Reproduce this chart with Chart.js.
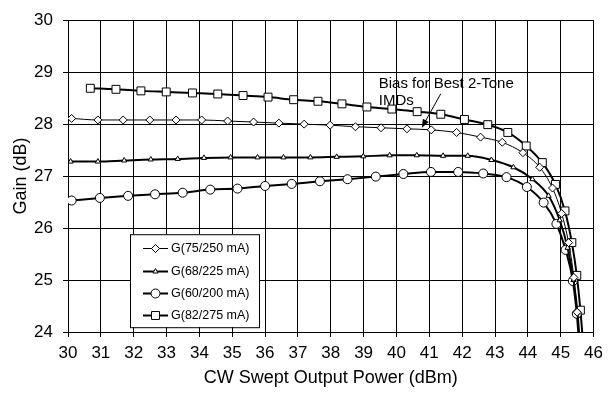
<!DOCTYPE html>
<html>
<head>
<meta charset="utf-8">
<script src="https://cdn.jsdelivr.net/npm/chart.js@4.4.0/dist/chart.umd.min.js"></script>
<style>
    html, body { margin: 0; padding: 0; background: #fff; }
    #wrap { position: relative; width: 609px; height: 396px; }
</style>
</head>
<body>
<div id="wrap"><canvas id="gainChart" width="609" height="396"></canvas></div>
<script>
// gain vs CW swept output power, four bias points
const seriesNames = ['G(75/250 mA)', 'G(68/225 mA)', 'G(60/200 mA)', 'G(82/275 mA)'];

const powerG75 = [30.11, 30.91, 31.68, 32.49, 33.29, 34.07, 34.86, 35.65, 36.42, 37.19, 37.98, 38.75, 39.53,
    40.32, 41.06, 41.83, 42.56, 43.22, 43.85, 44.36, 44.75, 45.03, 45.24, 45.40, 45.50, 45.60];
const gainG75 = [28.11, 28.08, 28.08, 28.08, 28.08, 28.08, 28.06, 28.04, 28.02, 28.00, 27.98, 27.95, 27.93,
    27.91, 27.89, 27.84, 27.75, 27.65, 27.45, 27.17, 26.77, 26.28, 25.72, 25.05, 24.38, 23.70];

const powerG68 = [30.08, 30.91, 31.71, 32.52, 33.34, 34.14, 34.95, 35.77, 36.56, 37.38, 38.18, 38.99, 39.79,
    40.62, 41.42, 42.17, 42.89, 43.56, 44.14, 44.63, 44.97, 45.21, 45.39, 45.51, 45.58];
const gainG68 = [27.28, 27.28, 27.30, 27.32, 27.33, 27.35, 27.36, 27.36, 27.36, 27.36, 27.37, 27.38, 27.40,
    27.40, 27.39, 27.39, 27.31, 27.17, 26.94, 26.62, 26.15, 25.62, 25.00, 24.38, 23.80];

const powerG60 = [30.11, 30.97, 31.83, 32.65, 33.49, 34.33, 35.16, 36.00, 36.81, 37.67, 38.51, 39.37, 40.21,
    41.05, 41.88, 42.64, 43.35, 43.97, 44.48, 44.87, 45.15, 45.37, 45.49, 45.56];
const gainG60 = [26.53, 26.58, 26.62, 26.65, 26.68, 26.74, 26.76, 26.81, 26.85, 26.90, 26.94, 26.99, 27.04,
    27.08, 27.08, 27.05, 26.98, 26.79, 26.49, 26.08, 25.58, 24.98, 24.35, 23.80];

const powerG82 = [30.68, 31.46, 32.22, 32.99, 33.79, 34.56, 35.33, 36.09, 36.87, 37.61, 38.34, 39.10, 39.86,
    40.63, 41.35, 42.07, 42.78, 43.39, 43.95, 44.44, 44.84, 45.13, 45.34, 45.49, 45.60, 45.68];
const gainG82 = [28.69, 28.67, 28.64, 28.62, 28.60, 28.58, 28.55, 28.52, 28.47, 28.44, 28.39, 28.33, 28.29,
    28.24, 28.19, 28.09, 27.99, 27.84, 27.58, 27.26, 26.84, 26.33, 25.72, 25.09, 24.42, 23.80];

// annotation: text anchor and arrow (data units)
const noteLines = ['Bias for Best 2-Tone', 'IMDs'];
const noteAt = [39.46, 28.70];
const arrowFrom = [41.35, 28.585];
const arrowTo = [40.77, 27.93];

const FONT = '"Liberation Sans", Arial, Helvetica, sans-serif';
Chart.defaults.font.family = FONT;
Chart.defaults.color = '#000';

function toPoints(xs, ys) {
    return xs.map((x, i) => ({ x: x, y: ys[i] }));
}

function makeSet(label, xs, ys, style, radius, width) {
    return {
        label: label,
        data: toPoints(xs, ys),
        borderColor: '#000',
        borderWidth: width,
        backgroundColor: '#fff',
        pointStyle: style,
        pointRadius: radius,
        pointBorderWidth: 1,
        pointBorderColor: '#000',
        pointBackgroundColor: '#fff',
        cubicInterpolationMode: 'monotone',
        clip: 0
    };
}

// text + arrow drawn in data coordinates
const notePlugin = {
    id: 'notePlugin',
    beforeDatasetsDraw(chart) {
        const { ctx, scales } = chart;
        const x = scales.x.getPixelForValue(noteAt[0]);
        const y = scales.y.getPixelForValue(noteAt[1]);
        ctx.save();
        ctx.font = '15px ' + FONT;
        ctx.fillStyle = '#000';
        ctx.textBaseline = 'alphabetic';
        noteLines.forEach((t, i) => ctx.fillText(t, x, y + i * 17));
        ctx.restore();
    },
    afterDatasetsDraw(chart) {
        const { ctx, scales } = chart;
        const x0 = scales.x.getPixelForValue(arrowFrom[0]);
        const y0 = scales.y.getPixelForValue(arrowFrom[1]);
        const x1 = scales.x.getPixelForValue(arrowTo[0]);
        const y1 = scales.y.getPixelForValue(arrowTo[1]);
        const ang = Math.atan2(y1 - y0, x1 - x0);
        const head = 9;
        ctx.save();
        ctx.strokeStyle = '#000';
        ctx.fillStyle = '#000';
        ctx.lineWidth = 1;
        ctx.beginPath();
        ctx.moveTo(x0, y0);
        ctx.lineTo(x1 - Math.cos(ang) * head * 0.8, y1 - Math.sin(ang) * head * 0.8);
        ctx.stroke();
        ctx.beginPath();
        ctx.moveTo(x1, y1);
        ctx.lineTo(x1 - head * Math.cos(ang - 0.38), y1 - head * Math.sin(ang - 0.38));
        ctx.lineTo(x1 - head * Math.cos(ang + 0.38), y1 - head * Math.sin(ang + 0.38));
        ctx.closePath();
        ctx.fill();
        ctx.restore();

        // legend box inside plot
        const area = chart.chartArea;
        const left = area.left + 62, top = area.top + 214, w = 129, h = 93;
        ctx.save();
        ctx.fillStyle = '#fff';
        ctx.fillRect(left, top, w, h);
        ctx.strokeStyle = '#000';
        ctx.lineWidth = 1;
        ctx.strokeRect(left + 0.5, top + 0.5, w, h);
        ctx.font = '12.5px ' + FONT;
        ctx.textBaseline = 'middle';
        chart.data.datasets.forEach((ds, i) => {
            const yy = Math.round(top + 14 + i * 22.4) + 0.5;
            ctx.strokeStyle = '#000';
            ctx.lineWidth = ds.borderWidth;
            ctx.beginPath();
            ctx.moveTo(left + 13, yy);
            ctx.lineTo(left + 38, yy);
            ctx.stroke();
            ctx.lineWidth = 1;
            ctx.fillStyle = '#fff';
            Chart.helpers.drawPoint(ctx, { pointStyle: ds.pointStyle, radius: ds.pointRadius, borderWidth: 1, rotation: 0 }, left + 25.5, yy);
            ctx.fillStyle = '#000';
            ctx.fillText(ds.label, left + 41, yy);
        });
        ctx.restore();
    }
};

new Chart(document.getElementById('gainChart'), {
    type: 'line',
    data: {
        datasets: [
            makeSet(seriesNames[0], powerG75, gainG75, 'rectRot', 4, 1),
            makeSet(seriesNames[1], powerG68, gainG68, 'triangle', 3, 2),
            makeSet(seriesNames[2], powerG60, gainG60, 'circle', 4.5, 2),
            makeSet(seriesNames[3], powerG82, gainG82, 'rect', 5.6, 2)
        ]
    },
    options: {
        responsive: false,
        animation: false,
        layout: { padding: { top: 14, right: 15, left: 0, bottom: 0 } },
        plugins: { legend: { display: false }, tooltip: { enabled: false } },
        scales: {
            x: {
                type: 'linear',
                min: 30,
                max: 46,
                ticks: { stepSize: 1, color: '#000', font: { size: 17 }, padding: 6, maxRotation: 0 },
                grid: { color: '#000', lineWidth: 1, tickLength: 5 },
                border: { color: '#000' },
                title: { display: true, text: 'CW Swept Output Power (dBm)', color: '#000', font: { size: 18 }, padding: { top: 0, bottom: 7 } },
                afterFit: s => { s.height = 64; }
            },
            y: {
                min: 24,
                max: 30,
                ticks: { stepSize: 1, color: '#000', font: { size: 17 }, padding: 10 },
                grid: { color: '#000', lineWidth: 1, tickLength: 5 },
                border: { color: '#000' },
                title: { display: true, text: 'Gain (dB)', color: '#000', font: { size: 18 }, padding: { top: 10, bottom: 0 } },
                afterFit: s => { s.width = 68; }
            }
        }
    },
    plugins: [notePlugin]
});
</script>
</body>
</html>
